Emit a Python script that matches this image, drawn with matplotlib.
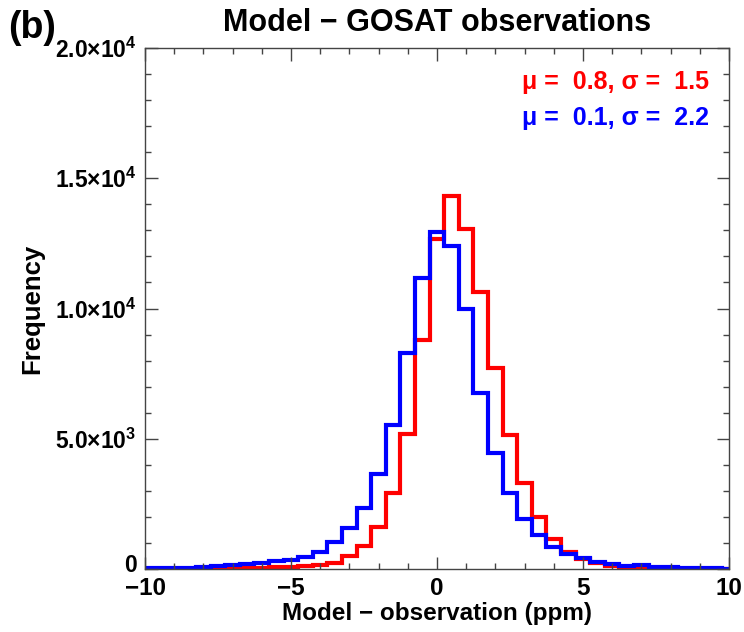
import numpy as np
import matplotlib
matplotlib.use('Agg')
import matplotlib.pyplot as plt
import matplotlib.transforms as mtransforms
from matplotlib.ticker import MultipleLocator

plt.rcParams['font.family'] = ['Liberation Sans', 'DejaVu Sans']
plt.rcParams['font.weight'] = 'bold'
plt.rcParams['mathtext.fontset'] = 'custom'
plt.rcParams['mathtext.rm'] = 'Liberation Sans:bold'
plt.rcParams['mathtext.bf'] = 'Liberation Sans:bold'

# bin centres (ppm), 0.5 ppm wide bins
centers = np.arange(-10, 10.5, 0.5)

# red histogram
red_counts = [5, 5, 8, 10, 12, 18, 25, 35, 45, 60, 75, 100, 150, 240, 480,
              870, 1630, 2910, 5200, 8800, 12650, 14300, 13050, 10650, 7700,
              5150, 3300, 2000, 1140, 670, 370, 220, 100, 60, 45, 35, 25,
              18, 12, 8, 5]

# blue histogram
blue_counts = [30, 35, 45, 55, 75, 110, 140, 180, 220, 300, 360, 475, 670,
               1050, 1590, 2330, 3630, 5540, 8300, 11180, 12920, 12400, 9980,
               6770, 4450, 2930, 1920, 1310, 850, 575, 410, 280, 180, 100,
               140, 90, 60, 45, 35, 25, 15]

red_text = 'μ =  0.8, σ =  1.5'
blue_text = 'μ =  0.1, σ =  2.2'

yticks = [0, 5000, 10000, 15000, 20000]
ytick_labels = ['0', r'$5.0{\times}10^{3}$', r'$1.0{\times}10^{4}$',
                r'$1.5{\times}10^{4}$', r'$2.0{\times}10^{4}$']

edges = np.append(centers - 0.25, centers[-1] + 0.25)

fig = plt.figure(figsize=(7.44, 6.32), dpi=100)
ax = fig.add_axes([145 / 744, 1 - 569 / 632, 584 / 744, 521 / 632])

ax.stairs(red_counts, edges, color='#ff0000', lw=3, baseline=None)
ax.stairs(blue_counts, edges, color='#0000ff', lw=3, baseline=None)

ax.set_xlim(-10, 10)
ax.set_ylim(0, 20000)
ax.set_xticks([-10, -5, 0, 5, 10])
ax.xaxis.set_minor_locator(MultipleLocator(1))
ax.set_yticks(yticks)
ax.set_yticklabels(ytick_labels)
ax.yaxis.set_minor_locator(MultipleLocator(1000))

ax.tick_params(which='both', direction='in', top=True, right=True,
               colors='#444444', labelcolor='black', width=1)
ax.tick_params(axis='x', labelsize=17.5)
ax.tick_params(axis='y', labelsize=16.5)
ax.tick_params(which='major', length=9, pad=6)
ax.tick_params(which='minor', length=4.5)
for s in ax.spines.values():
    s.set_color('#444444')
    s.set_linewidth(1)

# the "0" label sits a little above the axis, clear of "-10"
zero_lab = ax.get_yticklabels()[0]
zero_lab.set_transform(zero_lab.get_transform() +
                       mtransforms.ScaledTranslation(0, 6 / 100, fig.dpi_scale_trans))

ax.set_xlabel('Model − observation (ppm)', fontsize=17.5, fontweight='bold', labelpad=1)
ax.set_ylabel('Frequency', fontsize=18.5, fontweight='bold', labelpad=8)
ax.set_title('Model − GOSAT observations', fontsize=22, fontweight='bold', pad=12)
fig.text(8 / 744, 1 - 38 / 632, '(b)', fontsize=27, fontweight='bold')

ax.text(0.965, 0.935, red_text, transform=ax.transAxes, color='#ff0000',
        fontsize=18, fontweight='bold', ha='right', va='center')
ax.text(0.965, 0.865, blue_text, transform=ax.transAxes, color='#0000ff',
        fontsize=18, fontweight='bold', ha='right', va='center')

fig.savefig('out.png', dpi=100)
